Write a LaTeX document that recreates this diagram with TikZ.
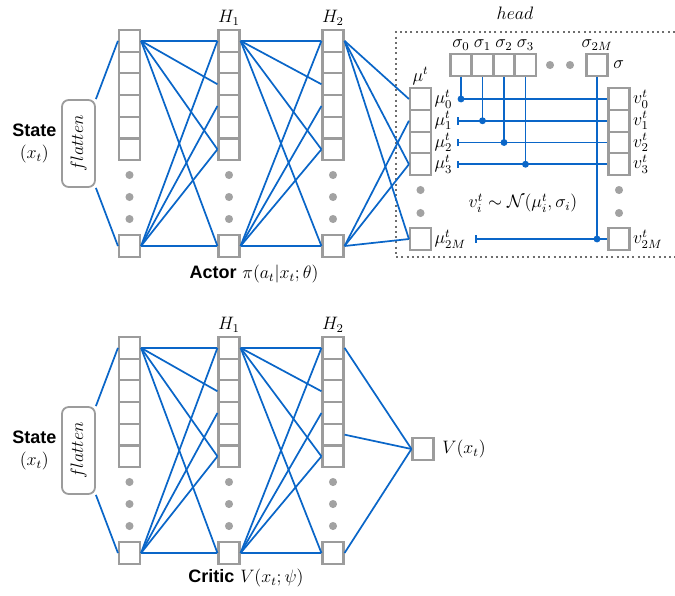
\documentclass[12pt,tikz,border=0pt]{standalone}
\usepackage{fontspec}
\setsansfont{Liberation Sans}
\usepackage{graphicx}
\usepackage{amsmath}
\definecolor{NetBlue}{HTML}{0A66C8}
\definecolor{CellGray}{HTML}{9C9C9C}
\definecolor{DotGray}{HTML}{A2A2A2}
\definecolor{HeadGray}{HTML}{6E6E6E}
\usepackage{tikz}
\usetikzlibrary{arrows.meta, positioning}
\tikzset{
  cell/.style={
    rectangle, draw=CellGray, line width=1.4pt, fill=white,
    minimum width=14pt, minimum height=14.47pt, inner sep=0pt
  },
  flat/.style={
    rectangle, rounded corners=4.5pt, draw=CellGray, line width=1.2pt,
    minimum width=22pt, minimum height=58pt, inner sep=0pt
  },
  link/.style={line width=1.15pt, color=NetBlue},
  tap/.style={{Bar[width=5pt]}-, line width=1.15pt, color=NetBlue},
  gdot/.style={fill=DotGray},
  lab/.style={inner sep=1pt},
  headbox/.style={draw=HeadGray, line width=1.2pt, dash pattern=on 1.2pt off 2.3pt},
}

\begin{document}
\begin{tikzpicture}[x=0.6667pt, y=-0.6667pt]
\useasboundingbox (0,0) rectangle (675,595);

% Layers of both nets (a = actor, c = critic)
\foreach \n/\dy in {a/0, c/307} {
  \foreach \l/\x in {0/129.5, 1/229, 2/333} {
    \foreach \i in {1,...,6}
      \node[cell] (\n\l-\i) at (\x, {30+\dy+(\i-0.5)*21.7}) {};
    \node[cell] (\n\l-b) at (\x, 246+\dy) {};
    \foreach \y in {175,197,219}
      \fill[gdot] (\x, \y+\dy) circle (2.7pt);
  }
  \foreach \l/\m in {0/1, 1/2} {
    \foreach \k in {1,3,6,b}
      \draw[link] (\n\l-1.east) -- (\n\m-\k.west);
    \foreach \k in {1,4,6,b}
      \draw[link] (\n\l-b.east) -- (\n\m-\k.west);
  }
}

% Input
\node[flat] (afl) at (78.5,143.5) {\rotatebox{90}{$flatten$}};
\node[flat] (cfl) at (78.5,450.5) {\rotatebox{90}{$flatten$}};
\node[left=3pt of afl, align=center, inner sep=0pt] (ast) {\textsf{\bfseries State}\\$(x_t)$};
\node[left=3pt of cfl, align=center, inner sep=0pt] (cst) {\textsf{\bfseries State}\\$(x_t)$};
\draw[link] (afl.north east) -- (a0-1.west);
\draw[link] (afl.south east) -- (a0-b.west);
\draw[link] (cfl.north east) -- (c0-1.west);
\draw[link] (cfl.south east) -- (c0-b.west);

% Label above
\node[lab, above=1pt of a1-1] (ah1) {$H_1$};
\node[lab, above=1pt of a2-1] (ah2) {$H_2$};
\node[lab, above=1pt of c1-1] (ch1) {$H_1$};
\node[lab, above=1pt of c2-1] (ch2) {$H_2$};

% Head
\draw[headbox] (680,32) -| (396,257) -- (680,257);
\node (hd) at (515,13) {$head$};

\foreach \i/\y in {0/99, 1/120.75, 2/142.5, 3/164.25, b/239} {
  \node[cell] (am-\i) at (420.5,\y) {};
  \node[cell] (av-\i) at (619,\y) {};
}
\foreach \i/\s in {0/0, 1/1, 2/2, 3/3, b/2M} {
  \node[lab, right=0.5pt of am-\i] (ml-\i) {$\mu^t_{\s}$};
  \node[lab, right=0.5pt of av-\i] (vl-\i) {$v^t_{\s}$};
}
\node[lab, above=0.5pt of am-0] (mut) {$\mu^t$};
\foreach \y in {190,213} {
  \fill[gdot] (420.5,\y) circle (2.7pt);
  \fill[gdot] (619,\y) circle (2.7pt);
}

\foreach \i/\x/\s in {0/461/0, 1/482.5/1, 2/504/2, 3/525.5/3, b/597/2M} {
  \node[cell] (s\i) at (\x,65) {};
  \node[lab, above=0.5pt of s\i] (sl\i) {$\sigma_{\s}$};
}
\node[lab, right=2pt of sb] (sig) {$\sigma$};
\fill[gdot] (550,65) circle (2.7pt);
\fill[gdot] (570,65) circle (2.7pt);

\foreach \k in {0,3,b}
  \draw[link] (a2-1.east) -- (am-\k.west);
\foreach \k in {1,3,b}
  \draw[link] (a2-b.east) -- (am-\k.west);

\foreach \i in {0,1,2,3,b} {
  \coordinate (j\i) at (s\i |- am-\i);
  \draw[link] (s\i.south) -- (j\i);
}
\draw[link] (j0) -- (av-0.west);
\foreach \i in {1,2,3}
  \draw[tap] ([xshift=2pt]ml-\i.east) -- (av-\i.west);
\draw[tap] ([xshift=5pt]ml-b.east) -- (av-b.west);
\foreach \i in {0,1,2,3,b}
  \fill[NetBlue] (j\i) circle (2.3pt);

\node (law) at (523,203) {$v^t_i \sim \mathcal{N}(\mu^t_i, \sigma_i)$};

% Critic output
\node[cell] (cv) at (423,449) {};
\node[right=5pt of cv, inner sep=0pt] (cvl) {$V(x_t)$};
\foreach \k in {1,5,b}
  \draw[link] (c2-\k.east) -- (cv.west);

% Net names
\node (aname) at (254,274) {\textsf{\bfseries Actor} $\pi(a_t|x_t;\theta)$};
\node (cname) at (246,578) {\textsf{\bfseries Critic} $V(x_t;\psi)$};

\end{tikzpicture}
\end{document}
